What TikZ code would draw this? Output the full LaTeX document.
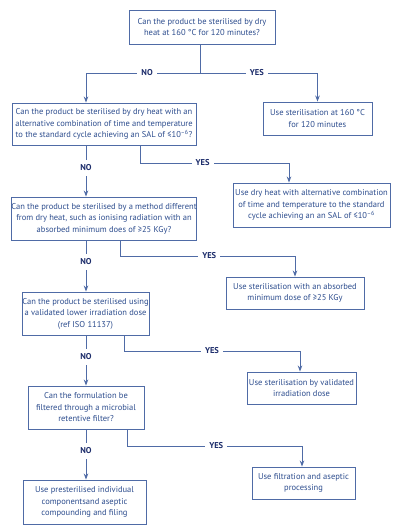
\documentclass[tikz,border=0pt]{standalone}
\usepackage{fontspec}
\setmainfont{PT Sans}
\usetikzlibrary{arrows.meta}
\definecolor{boxc}{HTML}{4F6BA6}
\definecolor{txtc}{HTML}{2D4D8E}
\definecolor{labc}{HTML}{1D2D6B}
\begin{document}
\begin{tikzpicture}[x=1pt,y=-1pt,
 box/.style={draw=boxc, line width=0.9pt, rectangle, inner sep=0pt, align=center, text=txtc, font=\fontsize{8.5}{11.5}\selectfont},
 conn/.style={draw=boxc, line width=0.9pt},
 arr/.style={conn, -{Stealth[length=6pt,width=4.5pt]}},
 lab/.style={fill=white, text=labc, font=\bfseries\fontsize{8.5}{10}\selectfont, inner xsep=4pt, inner ysep=5pt}]
\useasboundingbox (0,0) rectangle (400,532);
\fill[white] (0,0) rectangle (400,532);

\node[box, minimum width=146pt, minimum height=34pt] (b1) at (202,27) {Can the product be sterilised by dry\\heat at 160 °C for 120 minutes?};
\node[box, minimum width=184pt, minimum height=42pt] (b2) at (104,124) {Can the product be sterilised by dry heat with an\\alternative combination of time and temperature\\to the standard cycle achieving an SAL of ≤10\textsuperscript{–6}?};
\node[box, minimum width=109pt, minimum height=33pt] (b3) at (317.5,118.5) {Use sterilisation at 160 °C\\for 120 minutes};
\node[box, minimum width=184pt, minimum height=43pt] (b4) at (104,218.5) {Can the product be sterilised by a method different\\from dry heat, such as ionising radiation with an\\absorbed minimum does of ≥25 KGy?};
\node[box, minimum width=157pt, minimum height=44pt] (b5) at (311.5,205) {Use dry heat with alternative combination\\of time and temperature to the standard\\cycle achieving an an SAL of ≤10\textsuperscript{–6}};
\node[box, minimum width=138pt, minimum height=32pt] (b6) at (295,293) {Use sterilisation with an absorbed\\minimum dose of ≥25 KGy};
\node[box, minimum width=127pt, minimum height=43pt] (b7) at (85.5,313.5) {Can the product be sterilised using\\a validated lower irradiation dose\\(ref ISO 11137)};
\node[box, minimum width=109pt, minimum height=32pt] (b8) at (301.5,388) {Use sterilisation by validated\\irradiation dose};
\node[box, minimum width=116pt, minimum height=43pt] (b9) at (86,407.5) {Can the formulation be\\filtered through a microbial\\retentive filter?};
\node[box, minimum width=123pt, minimum height=44pt] (b10) at (84.5,502) {Use presterilised individual\\componentsand aseptic\\compounding and filing};
\node[box, minimum width=103pt, minimum height=32pt] (b11) at (303.5,483) {Use filtration and aseptic\\processing};

\coordinate (nx) at (86,0);
\coordinate (j1) at (200,73);
\draw[conn] (b1.south -| j1) -- (j1);
\draw[arr] (j1) -| node[lab,pos=0.232]{NO} (b2.north -| nx);
\draw[arr] (j1) -| node[lab,pos=0.242]{YES} (b3.north);

\draw[arr] (b2.south -| nx) -- node[lab,pos=0.44]{NO} (b4.north -| nx);
\draw[arr] (b4.south -| nx) -- node[lab,pos=0.42]{NO} (b7.north -| nx);
\draw[arr] (b7.south -| nx) -- node[lab,pos=0.43]{NO} (b9.north -| nx);
\draw[arr] (b9.south -| nx) -- node[lab,pos=0.43]{NO} (b10.north -| nx);

\coordinate (c2) at (140,163); \coordinate (d2) at (289,163);
\draw[arr] (b2.south -| c2) -- (c2) -- node[lab,pos=0.42]{YES} (d2) -- (b5.north -| d2);
\coordinate (c4) at (120,256); \coordinate (d4) at (295,256);
\draw[arr] (b4.south -| c4) -- (c4) -- node[lab,pos=0.51]{YES} (d4) -- (b6.north -| d4);
\coordinate (c7) at (124,351); \coordinate (d7) at (300,351);
\draw[arr] (b7.south -| c7) -- (c7) -- node[lab,pos=0.5]{YES} (d7) -- (b8.north -| d7);
\coordinate (c9) at (127,446); \coordinate (d9) at (302,446);
\draw[arr] (b9.south -| c9) -- (c9) -- node[lab,pos=0.51]{YES} (d9) -- (b11.north -| d9);
\end{tikzpicture}
\end{document}
